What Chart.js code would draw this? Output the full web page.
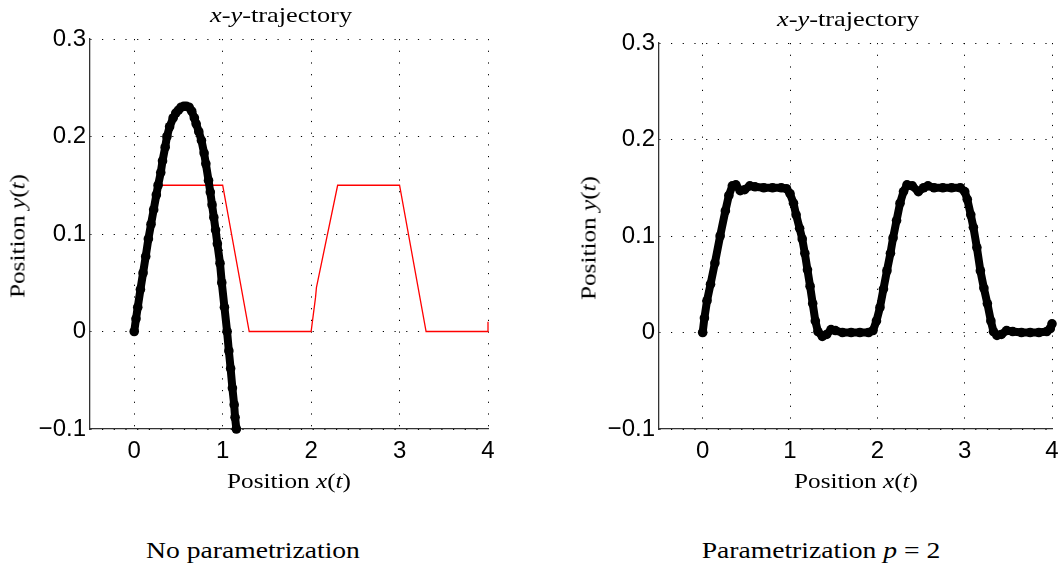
<!DOCTYPE html>
<html>
<head>
<meta charset="utf-8">
<script src="https://cdn.jsdelivr.net/npm/chart.js@4.4.0/dist/chart.umd.min.js"></script>
<style>
  body { margin: 0; background: #fff; width: 1064px; height: 567px; position: relative; overflow: hidden; }
  canvas { position: absolute; top: 0; }
  .lbl { position: absolute; font-family: 'Liberation Serif', serif; color: #000; white-space: nowrap; transform: translate(-50%, -50%) scaleX(1.2); }
  .rot { transform: translate(-50%, -50%) rotate(-90deg) scaleX(1.2); }
</style>
</head>
<body>
<canvas id="chartA" width="532" height="480" style="left:0"></canvas>
<canvas id="chartB" width="532" height="480" style="left:532px"></canvas>

<div class="lbl" style="left:281px;top:15px;font-size:22px"><i>x</i>-<i>y</i>-trajectory</div>
<div class="lbl" style="left:848px;top:19px;font-size:22px"><i>x</i>-<i>y</i>-trajectory</div>
<div class="lbl" style="left:289px;top:481px;font-size:21px">Position <i>x</i>(<i>t</i>)</div>
<div class="lbl" style="left:856px;top:481px;font-size:21px">Position <i>x</i>(<i>t</i>)</div>
<div class="lbl rot" style="left:18px;top:236px;font-size:21px">Position <i>y</i>(<i>t</i>)</div>
<div class="lbl rot" style="left:589px;top:238px;font-size:21px">Position <i>y</i>(<i>t</i>)</div>
<div class="lbl" style="left:253px;top:551px;font-size:23px">No parametrization</div>
<div class="lbl" style="left:821px;top:551px;font-size:23px">Parametrization <i>p</i> = 2</div>

<script>
// tick labels
const xTicks = [0, 1, 2, 3, 4]
const yTicks = [-0.1, 0, 0.1, 0.2, 0.3]

// left: no parametrization (black markers)
const rawX = [0, 0.02, 0.04, 0.07, 0.1, 0.13, 0.16, 0.19, 0.22, 0.25, 0.27, 0.3, 0.32, 0.35, 0.37, 0.4, 0.44, 0.47, 0.5, 0.53, 0.56, 0.59, 0.62, 0.65, 0.68, 0.7, 0.73, 0.76, 0.79, 0.81, 0.84, 0.86, 0.88, 0.9, 0.92, 0.94, 0.97, 0.99, 1.02, 1.05, 1.07, 1.09, 1.11, 1.13, 1.14, 1.155]
const rawY = [0, 0.013, 0.025, 0.043, 0.06, 0.077, 0.095, 0.11, 0.125, 0.14, 0.15, 0.163, 0.175, 0.189, 0.2, 0.21, 0.219, 0.224, 0.227, 0.23, 0.231, 0.231, 0.23, 0.226, 0.219, 0.213, 0.205, 0.196, 0.183, 0.172, 0.155, 0.143, 0.13, 0.117, 0.104, 0.09, 0.07, 0.05, 0.025, 0, -0.02, -0.038, -0.058, -0.075, -0.088, -0.1]

// left: reference path (red)
const refX = [0, 0.3, 1.0, 1.3, 2.0, 2.05, 2.06, 2.3, 3.0, 3.3, 4.0, 4.0]
const refY = [0, 0.15, 0.15, 0, 0, 0.035, 0.045, 0.15, 0.15, 0, 0, 0.01]

// right: parametrization p = 2 (black markers)
const parX = [0, 0.02, 0.05, 0.09, 0.14, 0.2, 0.26, 0.3, 0.34, 0.38, 0.43, 0.48, 0.54, 0.6, 0.7, 0.8, 0.9, 0.96, 1.0, 1.04, 1.07, 1.11, 1.14, 1.17, 1.2, 1.23, 1.26, 1.29, 1.32, 1.37, 1.42, 1.47, 1.52, 1.6, 1.7, 1.8, 1.9, 1.95, 1.99, 2.03, 2.07, 2.11, 2.15, 2.18, 2.22, 2.26, 2.3, 2.34, 2.4, 2.47, 2.53, 2.58, 2.65, 2.75, 2.85, 2.95, 3.0, 3.03, 3.07, 3.1, 3.14, 3.18, 3.22, 3.26, 3.3, 3.33, 3.37, 3.42, 3.48, 3.55, 3.65, 3.75, 3.85, 3.94, 3.98, 4.0]
const parY = [0, 0.015, 0.033, 0.05, 0.072, 0.1, 0.126, 0.142, 0.152, 0.153, 0.147, 0.148, 0.152, 0.151, 0.15, 0.15, 0.15, 0.149, 0.144, 0.134, 0.122, 0.108, 0.097, 0.082, 0.065, 0.048, 0.03, 0.012, 0.001, -0.004, -0.002, 0.003, 0.002, 0, 0, 0, 0, 0.002, 0.012, 0.026, 0.045, 0.064, 0.082, 0.098, 0.116, 0.134, 0.146, 0.153, 0.152, 0.146, 0.15, 0.152, 0.15, 0.15, 0.15, 0.15, 0.146, 0.138, 0.122, 0.109, 0.088, 0.064, 0.046, 0.03, 0.012, 0.001, -0.003, -0.002, 0.002, 0.001, 0, 0, 0, 0.001, 0.004, 0.009]

const toPts = (xs, ys) => xs.map((x, i) => ({ x: x, y: ys[i] }))

const tickFont = { family: "'Liberation Sans', Arial, sans-serif", size: 24 }

function axes(yWidth, xHeight) {
  return {
    x: {
      type: 'linear', min: -0.5, max: 4,
      afterBuildTicks: s => { s.ticks = xTicks.map(v => ({ value: v })) },
      afterFit: s => { s.height = xHeight; s.paddingLeft = 0; s.paddingRight = 0 },
      grid: { color: '#000', lineWidth: 1, drawTicks: false },
      border: { display: true, color: '#333', width: 1.3, dash: [1.2, 10.5] },
      ticks: { color: '#000', font: tickFont, padding: 8, maxRotation: 0,
               callback: v => String(v) }
    },
    y: {
      type: 'linear', min: -0.1, max: 0.3,
      afterBuildTicks: s => { s.ticks = yTicks.map(v => ({ value: v })) },
      afterFit: s => { s.width = yWidth; s.paddingTop = 0; s.paddingBottom = 0 },
      grid: { color: '#000', lineWidth: 1, drawTicks: false },
      border: { display: true, color: '#333', width: 1.3, dash: [1.2, 10.5] },
      ticks: { color: '#000', font: tickFont, padding: 4,
               callback: v => (v < 0 ? '\u2212' + String(Math.abs(v)) : String(v)) }
    }
  }
}

function makeChart(id, datasets, pad, yWidth, xHeight) {
  return new Chart(document.getElementById(id).getContext('2d'), {
    type: 'scatter',
    data: { datasets: datasets },
    options: {
      responsive: false,
      animation: false,
      layout: { padding: pad },
      plugins: { legend: { display: false }, tooltip: { enabled: false } },
      scales: axes(yWidth, xHeight)
    }
  })
}

const blackStyle = {
  showLine: true,
  borderColor: '#000',
  backgroundColor: '#000',
  borderWidth: 8,
  borderCapStyle: 'round',
  borderJoinStyle: 'round',
  pointRadius: 4.8,
  pointBorderWidth: 0,
  clip: false
}

makeChart('chartA', [
  Object.assign({ data: toPts(rawX, rawY) }, blackStyle),
  { data: toPts(refX, refY), showLine: true, borderColor: '#ff0000', borderWidth: 1.3,
    pointRadius: 0, fill: false, clip: false }
], { top: 39, right: 44, bottom: 0, left: 0 }, 90, 51)

makeChart('chartB', [
  Object.assign({ data: toPts(parX, parY) }, blackStyle)
], { top: 43, right: 12, bottom: 0, left: 0 }, 127, 51)
</script>
</body>
</html>
